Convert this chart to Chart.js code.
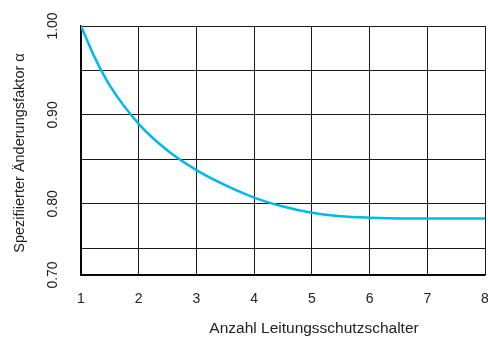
<!DOCTYPE html>
<html lang="de">
<head>
    <meta charset="UTF-8">
    <title>Änderungsfaktor</title>
    <script src="https://cdn.jsdelivr.net/npm/chart.js"></script>
    <style>
        body { margin: 0; background: #fff; }
        canvas { display: block; }
    </style>
</head>
<body>
    <canvas id="grafico" width="488" height="338"></canvas>
    <script>
        // Werte
        const anzahl = [1, 1.25, 1.5, 2, 2.5, 3, 3.5, 4, 4.5, 5, 5.5, 6, 7, 8];
        const alpha = [1.000, 0.963, 0.933, 0.890, 0.860, 0.838, 0.821, 0.807, 0.797, 0.790, 0.786, 0.7845, 0.7835, 0.7835];
        const yTicks = [0.72, 0.75, 0.80, 0.85, 0.90, 0.95, 1.00];
        const yLabels = { "0.72": "0.70", "0.80": "0.80", "0.90": "0.90", "1.00": "1.00" };
        const xTitel = "Anzahl Leitungsschutzschalter";
        const yTitel = "Spezifiierter Änderungsfaktor α";

        const familie = "'Liberation Sans', Arial, sans-serif";
        const schrift = { family: familie, size: 14 };
        const textFarbe = "#222";

        const titelPlugin = {
            id: "titel",
            afterDraw(chart) {
                const ctx = chart.ctx;
                ctx.save();
                ctx.fillStyle = textFarbe;
                ctx.textAlign = "center";
                ctx.textBaseline = "middle";
                ctx.font = "15.5px " + familie;
                ctx.fillText(xTitel, 314, 329);
                ctx.font = "14.5px " + familie;
                ctx.translate(20, 153);
                ctx.rotate(-Math.PI / 2);
                ctx.fillText(yTitel, 0, 0);
                ctx.restore();
            }
        };

        new Chart(document.getElementById("grafico"), {
            type: "line",
            data: {
                datasets: [{
                    data: anzahl.map((x, i) => ({ x, y: alpha[i] })),
                    borderColor: "#00b9ec",
                    borderWidth: 2.5,
                    pointRadius: 0,
                    cubicInterpolationMode: "monotone",
                    fill: false
                }]
            },
            options: {
                responsive: false,
                animation: false,
                layout: { padding: { top: 26, right: 3, left: 0, bottom: 0 } },
                plugins: { legend: { display: false }, tooltip: { enabled: false } },
                scales: {
                    x: {
                        type: "linear",
                        min: 1,
                        max: 8,
                        afterFit: s => { s.height = 63; s.paddingLeft = 0; s.paddingRight = 0; },
                        grid: { color: "#1a1a1a", lineWidth: 1, drawTicks: false },
                        border: { color: "#000", width: 1.5 },
                        ticks: { stepSize: 1, padding: 16, color: textFarbe, font: schrift, maxRotation: 0 }
                    },
                    y: {
                        min: 0.72,
                        max: 1.0,
                        afterFit: s => { s.width = 81; },
                        afterBuildTicks: s => { s.ticks = yTicks.map(v => ({ value: v })); },
                        grid: { color: "#1a1a1a", lineWidth: 1, drawTicks: false },
                        border: { color: "#000", width: 1.5 },
                        ticks: {
                            minRotation: 90,
                            maxRotation: 90,
                            crossAlign: "center",
                            padding: 14,
                            color: textFarbe,
                            font: schrift,
                            callback: v => yLabels[v.toFixed(2)] || ""
                        }
                    }
                }
            },
            plugins: [titelPlugin]
        });
    </script>
</body>
</html>
